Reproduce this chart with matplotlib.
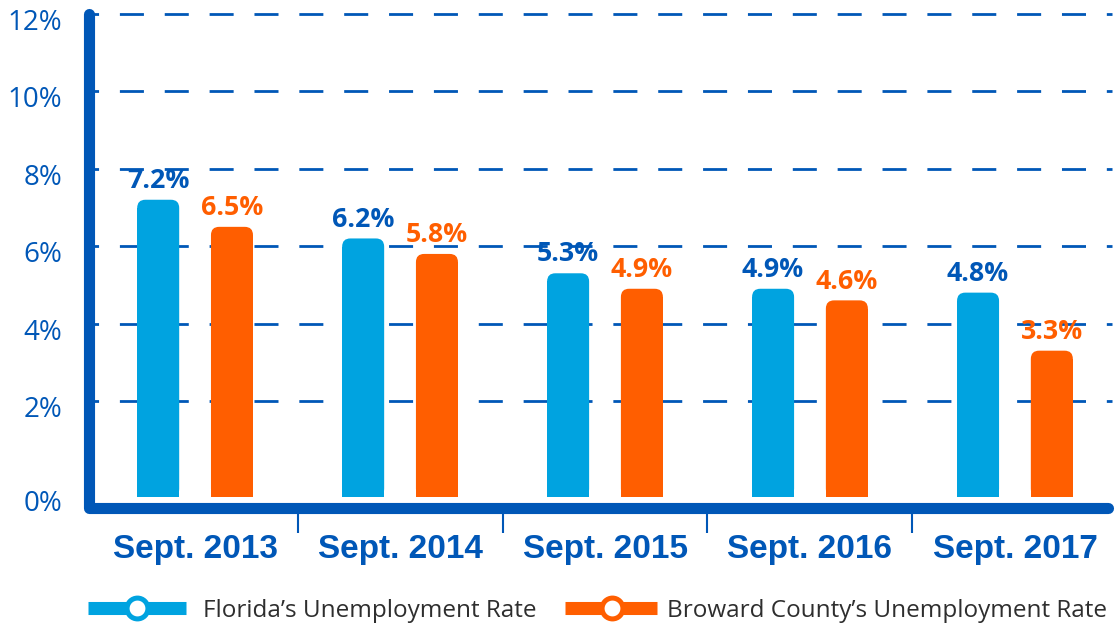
import numpy as np
import matplotlib.pyplot as plt
from matplotlib.lines import Line2D
from matplotlib.patches import FancyBboxPatch
import matplotlib.transforms as mtransforms

plt.rcParams["lines.scale_dashes"] = False

# data
years = ["Sept. 2013", "Sept. 2014", "Sept. 2015", "Sept. 2016", "Sept. 2017"]
florida = [7.2, 6.2, 5.3, 4.9, 4.8]
broward = [6.5, 5.8, 4.9, 4.6, 3.3]
grid_values = [2, 4, 6, 8, 10, 12]
ytick_labels = ["0%", "2%", "4%", "6%", "8%", "10%", "12%"]
series_names = ["Florida\u2019s Unemployment Rate",
                "Broward County\u2019s Unemployment Rate"]

BLUE = "#0057b7"
LIGHT_BLUE = "#00a3e0"
ORANGE = "#ff5e00"
GRAY = "#2e2e2e"

W, H = 1118, 624
fig = plt.figure(figsize=(W / 100, H / 100), dpi=100)
# axes box in pixels: left 88.5, right 1108, top 10, bottom 508
ax = fig.add_axes([88.5 / W, (H - 508) / H, (1108 - 88.5) / W, (508 - 10) / H])

xmin, xmax = -0.52, 4.454
ymin, ymax = -0.765, 12.103
base = -0.48  # bars start a little above the thick axis line
ax.set_xlim(xmin, xmax)
ax.set_ylim(ymin, ymax)
for s in ax.spines.values():
    s.set_visible(False)

# dashed grid
for g in grid_values:
    ax.add_line(Line2D([xmin, xmax + 0.02], [g, g], color=BLUE, lw=2,
                       linestyle=(9.7, (17.3, 15)), zorder=1, clip_on=False))

# bars with rounded tops
x = np.arange(len(years))
bw = 0.205
off = 0.18
px_x = 1019.5 / (xmax - xmin)
px_y = 498 / (ymax - ymin)
aspect = px_x / px_y
r = 0.04


def rounded_bar(xc, top, color):
    ax.bar(xc, top - base - r * aspect, bottom=base, width=bw, color=color,
           linewidth=0, zorder=2)
    ax.add_patch(FancyBboxPatch((xc - bw / 2, base), bw, top - base,
                                boxstyle="round,pad=0,rounding_size=%f" % r,
                                mutation_aspect=aspect, fc=color, ec="none",
                                lw=0, zorder=2))


for i in range(len(years)):
    rounded_bar(x[i] - off, florida[i], LIGHT_BLUE)
    rounded_bar(x[i] + off, broward[i], ORANGE)
    ax.annotate("%.1f%%" % florida[i], (x[i] - off, florida[i]),
                xytext=(0, 8.5), textcoords="offset points", ha="center",
                va="baseline", fontsize=19.3, fontweight="bold",
                family="Open Sans", color=BLUE, zorder=4)
    ax.annotate("%.1f%%" % broward[i], (x[i] + off, broward[i]),
                xytext=(0, 8.5), textcoords="offset points", ha="center",
                va="baseline", fontsize=19.3, fontweight="bold",
                family="Open Sans", color=ORANGE, zorder=4)

# thick axis lines with round ends
ax.add_line(Line2D([0, 0, 1], [0.991, 0, 0], transform=ax.transAxes,
                   color=BLUE, lw=8, solid_capstyle="round",
                   solid_joinstyle="round", clip_on=False, zorder=3))

# y ticks
ax.set_yticks([base + 0.05] + grid_values)
ax.set_yticklabels(ytick_labels, fontsize=20, family="Open Sans", color=BLUE)
ax.tick_params(axis="y", length=0, pad=19)
shift = mtransforms.ScaledTranslation(0, -4 / 72, fig.dpi_scale_trans)
for lab in ax.get_yticklabels():
    lab.set_transform(lab.get_transform() + shift)

# x ticks: category labels and divider marks
ax.set_xticks(x)
ax.set_xticklabels(years, fontsize=24, fontweight="bold",
                   family="Liberation Sans", color=BLUE)
ax.tick_params(axis="x", which="major", length=0, pad=19)
ax.set_xticks(x[:-1] + 0.5, minor=True)
ax.tick_params(axis="x", which="minor", length=18, width=1.5, color=BLUE,
               direction="out")

# legend drawn by hand to match the original layout
legend_y = (H - 608) / H
legend_items = [(88, 186, 137, 203, LIGHT_BLUE), (565, 657, 612, 667, ORANGE)]
for (x0, x1, cx, tx, col), name in zip(legend_items, series_names):
    fig.add_artist(Line2D([x0 / W, x1 / W], [legend_y, legend_y],
                          transform=fig.transFigure, color=col, lw=9.4,
                          solid_capstyle="butt"))
    fig.add_artist(Line2D([cx / W], [legend_y], transform=fig.transFigure,
                          marker="o", ms=15, mfc="white", mec=col, mew=3.6,
                          lw=0))
    fig.text(tx / W, (H - 617) / H, name, fontsize=17.5, family="Open Sans",
             color=GRAY, va="baseline", ha="left")

fig.savefig("out.png", dpi=100)
